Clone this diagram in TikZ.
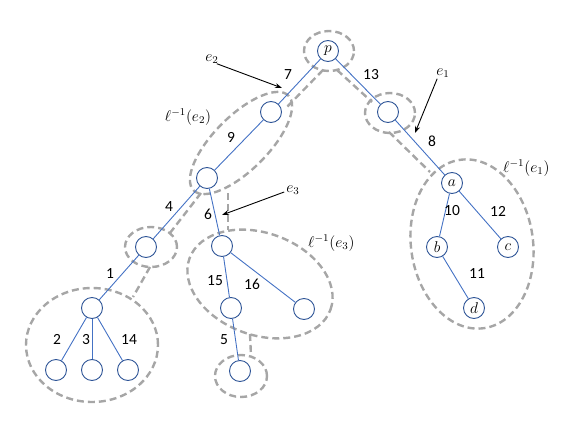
\documentclass[tikz,border=0pt]{standalone}
\usepackage{fontspec}
\setmainfont{Carlito}
\usetikzlibrary{shapes.geometric,arrows.meta}
\definecolor{edgeblue}{HTML}{4472C4}
\definecolor{nodeblue}{HTML}{2F5597}
\definecolor{grpgray}{HTML}{A6A6A6}
\newcommand{\mymath}[1]{\scalebox{1.3}{$#1$}}
\begin{document}
\begin{tikzpicture}[x=1pt,y=-1pt,
  vtx/.style={circle,draw=nodeblue,line width=0.9pt,minimum size=21pt,inner sep=0pt,fill=white,font=\fontsize{12}{12}\selectfont},
  tedge/.style={draw=edgeblue,line width=0.9pt},
  grp/.style={draw=grpgray,line width=2.4pt,dash pattern=on 7pt off 4pt},
  grpell/.style={grp,ellipse,inner sep=0pt},
  lbl/.style={font=\fontsize{15.5}{15.5}\selectfont,inner sep=0pt},
  mlbl/.style={font=\fontsize{12}{12}\selectfont,inner sep=0pt},
  ptr/.style={-{Stealth[length=7pt,width=5pt]},line width=0.9pt}]
\useasboundingbox (0,0) rectangle (581,436);
% group ellipses
\node[grpell,minimum width=50pt,minimum height=40pt] (Ep) at (329,51) {};
\node[grpell,minimum width=50pt,minimum height=40pt] (E13) at (390,113) {};
\node[grpell,minimum width=134pt,minimum height=54pt,rotate=45] (E2) at (241,143) {};
\node[grpell,minimum width=122pt,minimum height=170pt,rotate=8] (E1) at (472,244) {};
\node[grpell,minimum width=52pt,minimum height=40pt] (E4) at (151,247) {};
\node[grpell,minimum width=132pt,minimum height=114pt] (EL) at (92,345) {};
\node[grpell,minimum width=150pt,minimum height=102pt,rotate=-20] (E3) at (260,284) {};
\node[grpell,minimum width=52pt,minimum height=42pt] (E5) at (241,376) {};
% connector end points between groups
\coordinate (c1a) at (323,70); \coordinate (c1b) at (286,108);
\coordinate (c2a) at (337,70); \coordinate (c2b) at (372,102);
\coordinate (c3a) at (389,132); \coordinate (c3b) at (430,172);
\coordinate (c4a) at (201,193); \coordinate (c4b) at (170,233);
\coordinate (c5a) at (228,193); \coordinate (c5b) at (228,230);
\coordinate (c6a) at (150,267); \coordinate (c6b) at (133,297);
\coordinate (c7a) at (250,334); \coordinate (c7b) at (251,356);
\draw[grp] (c1a) -- (c1b);
\draw[grp] (c2a) -- (c2b);
\draw[grp] (c3a) -- (c3b);
\draw[grp] (c4a) -- (c4b);
\draw[grp] (c5a) -- (c5b);
\draw[grp] (c6a) -- (c6b);
\draw[grp] (c7a) -- (c7b);
% vertices
\node[vtx] (p) at (328,51) {\mymath{p}};
\node[vtx] (n7) at (271,112) {};
\node[vtx] (n13) at (388,112) {};
\node[vtx] (a) at (452,183) {\mymath{a}};
\node[vtx] (b) at (437,247) {\mymath{b}};
\node[vtx] (c) at (508,247) {\mymath{c}};
\node[vtx] (d) at (474,308) {\mymath{d}};
\node[vtx] (n9) at (207,178) {};
\node[vtx] (n6) at (222,246) {};
\node[vtx] (n4) at (146,247) {};
\node[vtx] (n1) at (92,308) {};
\node[vtx] (l2) at (56,370) {};
\node[vtx] (l3) at (92,370) {};
\node[vtx] (l14) at (128,370) {};
\node[vtx] (n15) at (231,308) {};
\node[vtx] (n16) at (304,309) {};
\node[vtx] (n5) at (240,371) {};
% tree edges
\draw[tedge] (p) -- (n7);
\draw[tedge] (p) -- (n13);
\draw[tedge] (n13) -- (a);
\draw[tedge] (a) -- (b);
\draw[tedge] (a) -- (c);
\draw[tedge] (b) -- (d);
\draw[tedge] (n7) -- (n9);
\draw[tedge] (n9) -- (n4);
\draw[tedge] (n9) -- (n6);
\draw[tedge] (n4) -- (n1);
\draw[tedge] (n1) -- (l2);
\draw[tedge] (n1) -- (l3);
\draw[tedge] (n1) -- (l14);
\draw[tedge] (n6) -- (n15);
\draw[tedge] (n6) -- (n16);
\draw[tedge] (n15) -- (n5);
% edge weights
\node[lbl] (w7) at (288,75) {7};
\node[lbl] (w13) at (371,75) {13};
\node[lbl] (w9) at (231,137) {9};
\node[lbl] (w8) at (432,141) {8};
\node[lbl] (w10) at (452,211) {10};
\node[lbl] (w12) at (498,211) {12};
\node[lbl] (w11) at (477,274) {11};
\node[lbl] (w6) at (208,214) {6};
\node[lbl] (w4) at (169,207) {4};
\node[lbl] (w15) at (215,281) {15};
\node[lbl] (w16) at (252,284) {16};
\node[lbl] (w5) at (224,340) {5};
\node[lbl] (w1) at (110,274) {1};
\node[lbl] (w2) at (57,339) {2};
\node[lbl] (w3) at (86,340) {3};
\node[lbl] (w14) at (129,340) {14};
% annotations
\node[mlbl] (te2) at (212,59) {\mymath{e_2}};
\node[mlbl] (te1) at (443,73) {\mymath{e_1}};
\node[mlbl] (te3) at (293,190) {\mymath{e_3}};
\coordinate (t2) at (282,88);
\coordinate (t1) at (415,133);
\coordinate (t3) at (222,215);
\draw[ptr] (te2.south east) ++(-2,0) -- (t2);
\draw[ptr] (te1.south west) ++(1,1) -- (t1);
\draw[ptr] (te3.west) ++(-2,2) -- (t3);
\node[mlbl] (le2) at (188,117) {\mymath{\ell^{-1}(e_2)}};
\node[mlbl,anchor=west] (le1) at (503,168) {\mymath{\ell^{-1}(e_1)}};
\node[mlbl,anchor=west] (le3) at (308,243) {\mymath{\ell^{-1}(e_3)}};
\end{tikzpicture}
\end{document}
